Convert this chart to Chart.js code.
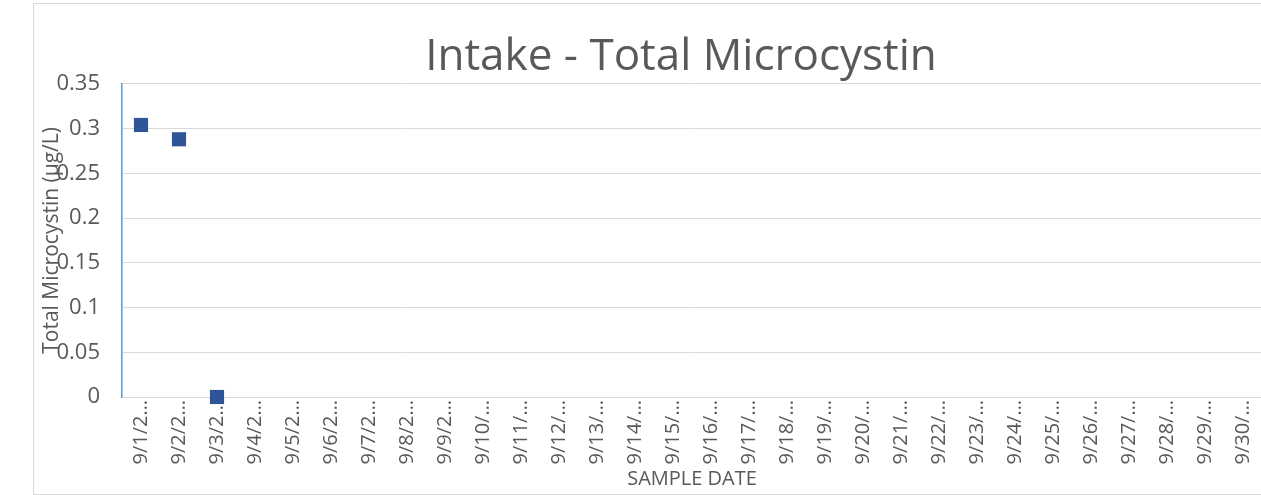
<!DOCTYPE html>
<html>
<head>
<meta charset="utf-8">
<script src="https://cdn.jsdelivr.net/npm/chart.js@4/dist/chart.umd.min.js"></script>
<style>
    html, body { margin: 0; padding: 0; background: #fff; overflow: hidden; }
    #frame {
        position: absolute;
        left: 33px;
        top: 3px;
        width: 1294px;
        height: 490px;
        border: 1px solid #d9d9d9;
    }
    #chart { display: block; }
</style>
</head>
<body>
<div id="frame"><canvas id="chart" width="1294" height="490"></canvas></div>
<script>
const sampleDates = [
    '9/1/2…', '9/2/2…', '9/3/2…', '9/4/2…', '9/5/2…', '9/6/2…', '9/7/2…', '9/8/2…', '9/9/2…', '9/10/…',
    '9/11/…', '9/12/…', '9/13/…', '9/14/…', '9/15/…', '9/16/…', '9/17/…', '9/18/…', '9/19/…', '9/20/…',
    '9/21/…', '9/22/…', '9/23/…', '9/24/…', '9/25/…', '9/26/…', '9/27/…', '9/28/…', '9/29/…', '9/30/…'
];
const microcystin = [
    0.304, 0.288, 0, null, null, null, null, null, null, null,
    null, null, null, null, null, null, null, null, null, null,
    null, null, null, null, null, null, null, null, null, null
];
const yTicks = [0, 0.05, 0.1, 0.15, 0.2, 0.25, 0.3, 0.35];

const grey = '#595959';
const fontFamily = '"Open Sans", sans-serif';

const ctx = document.getElementById('chart').getContext('2d');
new Chart(ctx, {
    type: 'line',
    data: {
        labels: sampleDates,
        datasets: [{
            label: 'Total Microcystin',
            data: microcystin,
            showLine: false,
            pointStyle: 'rect',
            pointRadius: 10,
            pointHoverRadius: 10,
            pointBackgroundColor: '#2e5597',
            pointBorderColor: '#2e5597',
            pointBorderWidth: 0,
            clip: false
        }]
    },
    options: {
        responsive: false,
        animation: false,
        layout: { padding: 0 },
        plugins: {
            legend: { display: false },
            tooltip: { enabled: false },
            title: {
                display: true,
                text: 'Intake - Total Microcystin',
                color: grey,
                font: { family: fontFamily, size: 44, weight: 'normal', lineHeight: 1.2 },
                padding: { top: 27, bottom: 0 }
            }
        },
        scales: {
            x: {
                offset: true,
                grid: { display: false, drawTicks: false },
                border: { display: true, color: '#d9d9d9' },
                ticks: {
                    color: grey,
                    font: { family: fontFamily, size: 20 },
                    minRotation: 90,
                    maxRotation: 90,
                    autoSkip: false,
                    padding: 3
                },
                title: {
                    display: true,
                    text: 'SAMPLE DATE',
                    color: grey,
                    font: { family: fontFamily, size: 20 },
                    padding: { top: 0, bottom: 3 }
                },
                afterFit: (scale) => { scale.height = 97; }
            },
            y: {
                min: 0,
                max: 0.35,
                afterBuildTicks: (scale) => { scale.ticks = yTicks.map(v => ({ value: v })); },
                grid: { color: '#d9d9d9', lineWidth: 1, drawTicks: false },
                border: { display: true, color: '#5b9bd5', width: 1.5 },
                ticks: {
                    color: grey,
                    font: { family: fontFamily, size: 22 },
                    padding: 22,
                    callback: (v) => String(+v.toFixed(2))
                },
                title: {
                    display: true,
                    text: 'Total Microcystin (µg/L)',
                    color: grey,
                    font: { family: fontFamily, size: 21 },
                    padding: { top: 5, bottom: 0 }
                },
                afterFit: (scale) => { scale.width = 88; }
            },
            // empty strip on the right, the plot area runs on past the picture edge
            yRight: {
                position: 'right',
                min: 0,
                max: 0.35,
                grid: { display: false, drawTicks: false },
                border: { display: false },
                ticks: { display: false },
                afterFit: (scale) => { scale.width = 66; }
            }
        }
    }
});
</script>
</body>
</html>
